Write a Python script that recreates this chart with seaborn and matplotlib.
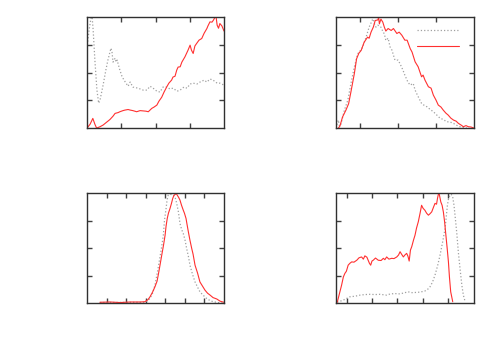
import matplotlib
matplotlib.use("Agg")
import matplotlib.pyplot as plt
import seaborn as sns
from matplotlib.lines import Line2D

# ---- panel 1 (top left) ----
tl_gray_x = [0, 0.06, 0.12, 0.15, 0.18, 0.23, 0.29, 0.34, 0.38, 0.47, 0.55, 0.61, 0.67, 0.70, 0.73,
             0.76, 0.79, 0.82, 0.85, 0.88, 0.91, 0.96, 1.02, 1.08, 1.14, 1.20, 1.26, 1.34, 1.49, 1.64,
             1.75, 1.84, 1.93, 2.04, 2.13, 2.22, 2.34, 2.42, 2.51, 2.63, 2.72, 2.83, 2.92, 3.01, 3.10,
             3.21, 3.30, 3.42, 3.50, 3.59, 3.68, 3.80, 3.88, 4.0]
tl_gray_y = [2.88, 3.53, 4.0, 4.0, 3.53, 2.45, 1.37, 0.90, 1.01, 1.55, 2.09, 2.45, 2.74, 2.88, 2.74,
             2.38, 2.45, 2.52, 2.38, 2.45, 2.31, 2.09, 1.87, 1.73, 1.62, 1.51, 1.66, 1.48, 1.44, 1.37,
             1.37, 1.51, 1.44, 1.33, 1.30, 1.48, 1.48, 1.41, 1.44, 1.33, 1.37, 1.48, 1.44, 1.59, 1.62,
             1.59, 1.66, 1.73, 1.66, 1.77, 1.73, 1.62, 1.62, 1.55]
tl_red_x = [0, 0.09, 0.17, 0.23, 0.28, 0.38, 0.47, 0.53, 0.61, 0.67, 0.76, 0.82, 0.91, 0.96, 1.05,
            1.11, 1.20, 1.26, 1.34, 1.45, 1.55, 1.64, 1.72, 1.79, 1.89, 1.96, 2.04, 2.10, 2.18, 2.25,
            2.33, 2.39, 2.47, 2.51, 2.57, 2.62, 2.66, 2.72, 2.77, 2.86, 2.95, 3.01, 3.05, 3.10, 3.15,
            3.20, 3.27, 3.35, 3.42, 3.50, 3.53, 3.59, 3.65, 3.69, 3.74, 3.77, 3.80, 3.84, 3.88, 3.94, 4.0]
tl_red_y = [0, 0.14, 0.35, 0.14, 0, 0.05, 0.11, 0.17, 0.25, 0.31, 0.43, 0.53, 0.56, 0.59, 0.63,
            0.65, 0.67, 0.65, 0.63, 0.59, 0.63, 0.62, 0.61, 0.59, 0.71, 0.76, 0.83, 0.97, 1.11, 1.30,
            1.49, 1.62, 1.73, 1.84, 1.87, 2.09, 2.20, 2.21, 2.38, 2.57, 2.81, 2.99, 2.81, 2.69, 2.96,
            3.05, 3.17, 3.23, 3.42, 3.59, 3.68, 3.83, 3.82, 3.89, 4.0, 4.0, 3.71, 3.60, 3.77, 3.68, 3.50]

# ---- panel 2 (top right) ----
tr_gray_x = [0.37, 0.41, 0.43, 0.46, 0.50, 0.55, 0.59, 0.68, 0.76, 0.85, 0.94, 1.0, 1.07, 1.16, 1.24,
             1.32, 1.34, 1.38, 1.42, 1.47, 1.55, 1.61, 1.64, 1.68, 1.74, 1.79, 1.84, 1.92, 2.0, 2.05,
             2.13, 2.18, 2.26, 2.32, 2.40, 2.45, 2.49, 2.55, 2.62, 2.68, 2.76, 2.84, 2.93, 3.0, 3.11,
             3.18, 3.28, 3.37, 3.46, 3.53, 3.63, 3.81]
tr_gray_y = [0, 0.22, 0.29, 0.07, 0.15, 0.43, 0.65, 1.01, 1.60, 2.20, 2.68, 2.78, 2.92, 3.28, 3.64,
             3.88, 4.0, 3.76, 3.64, 3.71, 3.64, 3.46, 3.40, 3.16, 3.24, 2.93, 2.81, 2.45, 2.45, 2.33,
             2.09, 1.91, 1.66, 1.55, 1.61, 1.37, 1.25, 1.08, 0.89, 0.83, 0.77, 0.68, 0.59, 0.50, 0.35,
             0.32, 0.23, 0.22, 0.17, 0.11, 0.05, 0]
tr_red_x = [0.43, 0.47, 0.54, 0.63, 0.70, 0.76, 0.85, 0.91, 0.97, 1.03, 1.11, 1.20, 1.24, 1.29, 1.35,
            1.40, 1.47, 1.49, 1.51, 1.55, 1.60, 1.64, 1.68, 1.74, 1.82, 1.88, 1.97, 2.03, 2.10, 2.18,
            2.24, 2.32, 2.37, 2.45, 2.53, 2.62, 2.66, 2.71, 2.80, 2.87, 2.93, 3.0, 3.06, 3.13, 3.19,
            3.26, 3.32, 3.39, 3.46, 3.53, 3.59, 3.66, 3.72, 3.79, 3.85, 3.92, 4.0]
tr_red_y = [0, 0.07, 0.40, 0.65, 0.88, 1.30, 1.96, 2.50, 2.70, 2.80, 3.10, 3.28, 3.24, 3.46, 3.64,
            3.88, 3.90, 4.0, 3.76, 3.93, 3.82, 3.64, 3.50, 3.59, 3.52, 3.59, 3.41, 3.46, 3.35, 3.17,
            3.17, 2.87, 2.74, 2.39, 2.21, 1.85, 1.91, 1.73, 1.49, 1.44, 1.19, 1.01, 0.83, 0.76, 0.65,
            0.54, 0.47, 0.36, 0.29, 0.25, 0.17, 0.11, 0.05, 0.09, 0.05, 0.04, 0]

# ---- panel 3 (bottom left) ----
bl_gray_x = [0.66, 2.96, 3.09, 3.22, 3.35, 3.47, 3.60, 3.73, 3.82, 3.90, 3.96, 4.04, 4.09, 4.15, 4.22,
             4.33, 4.42, 4.50, 4.58, 4.67, 4.75, 4.83, 4.92, 5.01, 5.09, 5.19, 5.26, 5.39, 5.52, 5.65,
             5.77, 5.93, 6.11, 6.29, 6.45, 6.80, 7.0]
bl_gray_y = [0.02, 0.03, 0.09, 0.17, 0.36, 0.65, 1.13, 1.68, 2.07, 2.47, 3.02, 3.44, 3.75, 3.93, 3.96,
             3.95, 3.93, 3.86, 3.64, 3.32, 2.90, 2.69, 2.53, 2.29, 1.99, 1.67, 1.38, 1.05, 0.77, 0.58,
             0.41, 0.29, 0.17, 0.09, 0.05, 0.01, 0]
bl_red_x = [0.66, 1.18, 1.69, 2.20, 2.71, 2.96, 3.12, 3.22, 3.35, 3.47, 3.58, 3.64, 3.73, 3.82, 3.91,
            3.99, 4.04, 4.10, 4.16, 4.24, 4.32, 4.38, 4.45, 4.50, 4.55, 4.61, 4.68, 4.75, 4.83, 4.92,
            4.98, 5.06, 5.11, 5.18, 5.26, 5.35, 5.42, 5.52, 5.65, 5.77, 5.90, 6.03, 6.16, 6.29, 6.44,
            6.63, 6.80, 7.0]
bl_red_y = [0.03, 0.04, 0.02, 0.04, 0.04, 0.05, 0.13, 0.23, 0.40, 0.59, 0.80, 1.02, 1.38, 1.75, 2.11,
            2.47, 2.80, 3.08, 3.27, 3.44, 3.64, 3.81, 3.93, 3.95, 4.0, 3.93, 3.85, 3.75, 3.56, 3.38,
            3.27, 3.08, 2.87, 2.59, 2.29, 1.99, 1.78, 1.38, 1.09, 0.77, 0.62, 0.47, 0.36, 0.29, 0.20,
            0.15, 0.07, 0.03]

# ---- panel 4 (bottom right) ----
br_gray_x = [-0.37, -0.13, 0.13, 0.33, 0.53, 0.72, 0.92, 1.12, 1.32, 1.58, 1.71, 1.91, 2.03, 2.17, 2.30,
             2.43, 2.58, 2.77, 2.90, 3.09, 3.21, 3.29, 3.39, 3.49, 3.59, 3.69, 3.79, 3.89, 3.94, 3.98,
             4.02, 4.08, 4.13, 4.19, 4.24, 4.28, 4.35, 4.41, 4.48, 4.55, 4.61, 4.68]
br_gray_y = [0.03, 0.11, 0.23, 0.25, 0.29, 0.31, 0.32, 0.31, 0.32, 0.29, 0.33, 0.35, 0.33, 0.35, 0.38,
             0.41, 0.38, 0.39, 0.40, 0.44, 0.51, 0.59, 0.76, 1.02, 1.35, 1.75, 2.22, 2.72, 3.20, 3.56,
             3.78, 3.93, 3.96, 3.86, 3.56, 3.20, 2.55, 1.87, 1.24, 0.65, 0.29, 0.05]
br_red_x = [-0.37, -0.28, -0.20, -0.13, -0.07, -0.01, 0.06, 0.13, 0.20, 0.29, 0.40, 0.49, 0.59, 0.66, 0.72,
            0.80, 0.85, 0.90, 0.95, 1.0, 1.05, 1.14, 1.25, 1.36, 1.45, 1.51, 1.58, 1.67, 1.78, 1.87,
            1.98, 2.05, 2.11, 2.17, 2.24, 2.30, 2.37, 2.42, 2.47, 2.52, 2.57, 2.64, 2.70, 2.76, 2.83,
            2.90, 2.96, 3.02, 3.09, 3.16, 3.23, 3.29, 3.36, 3.43, 3.49, 3.55, 3.59, 3.62, 3.65, 3.72,
            3.77, 3.82, 3.87, 3.92, 3.97, 4.02, 4.06, 4.11, 4.19]
br_red_y = [0.03, 0.36, 0.65, 0.95, 1.08, 1.16, 1.38, 1.45, 1.50, 1.49, 1.56, 1.65, 1.68, 1.60, 1.72,
            1.67, 1.56, 1.45, 1.38, 1.53, 1.56, 1.64, 1.56, 1.55, 1.63, 1.58, 1.68, 1.60, 1.63, 1.62,
            1.68, 1.75, 1.87, 1.78, 1.68, 1.75, 1.81, 1.71, 1.53, 1.93, 2.05, 2.29, 2.47, 2.73, 2.96,
            3.27, 3.56, 3.45, 3.38, 3.27, 3.20, 3.25, 3.32, 3.49, 3.63, 3.60, 3.82, 3.95, 4.0, 3.68,
            3.56, 3.32, 2.95, 2.47, 2.0, 1.50, 0.95, 0.41, 0.05]

GRAY = "#a0a0a0"
RED = "#ff3030"

sns.set_style("white")
fig = plt.figure(figsize=(5, 3.5), dpi=100)

panels = [
    ([0.174, 0.634, 0.274, 0.317], tl_gray_x, tl_gray_y, tl_red_x, tl_red_y, (0, 4), [1, 2, 3]),
    ([0.672, 0.634, 0.276, 0.317], tr_gray_x, tr_gray_y, tr_red_x, tr_red_y, (0.368, 4), [1, 2, 3]),
    ([0.174, 0.134, 0.274, 0.314], bl_gray_x, bl_gray_y, bl_red_x, bl_red_y, (0, 7), [1, 2, 3, 4, 5, 6]),
    ([0.672, 0.134, 0.276, 0.314], br_gray_x, br_gray_y, br_red_x, br_red_y, (-0.42, 5.03), [0, 1, 2, 3, 4]),
]

axes = []
for rect, gx, gy, rx, ry, xlim, xt in panels:
    ax = fig.add_axes(rect)
    sns.lineplot(x=gx, y=gy, ax=ax, color=GRAY, linestyle=":", linewidth=0.9,
                 sort=False, estimator=None)
    sns.lineplot(x=rx, y=ry, ax=ax, color=RED, linewidth=0.8,
                 sort=False, estimator=None)
    ax.set_xlim(*xlim)
    ax.set_ylim(0, 4)
    ax.set_xticks(xt)
    ax.set_yticks([1, 2, 3])
    ax.tick_params(direction="in", length=3.5, width=1, top=True, right=True,
                   bottom=True, left=True, labelbottom=False, labelleft=False, color="#404040")
    for s in ax.spines.values():
        s.set_color("#303030")
        s.set_linewidth(1.0)
    axes.append(ax)

# legend in top-right panel (labels left empty)
handles = [Line2D([], [], color=GRAY, linestyle=":", linewidth=0.9),
           Line2D([], [], color=RED, linewidth=0.8)]
axes[1].legend(handles, ["", ""], loc="upper right", frameon=False, handlelength=3,
               handletextpad=0.6, labelspacing=0.1, borderaxespad=0.1, fontsize=10)

fig.savefig("out.png", dpi=100)
